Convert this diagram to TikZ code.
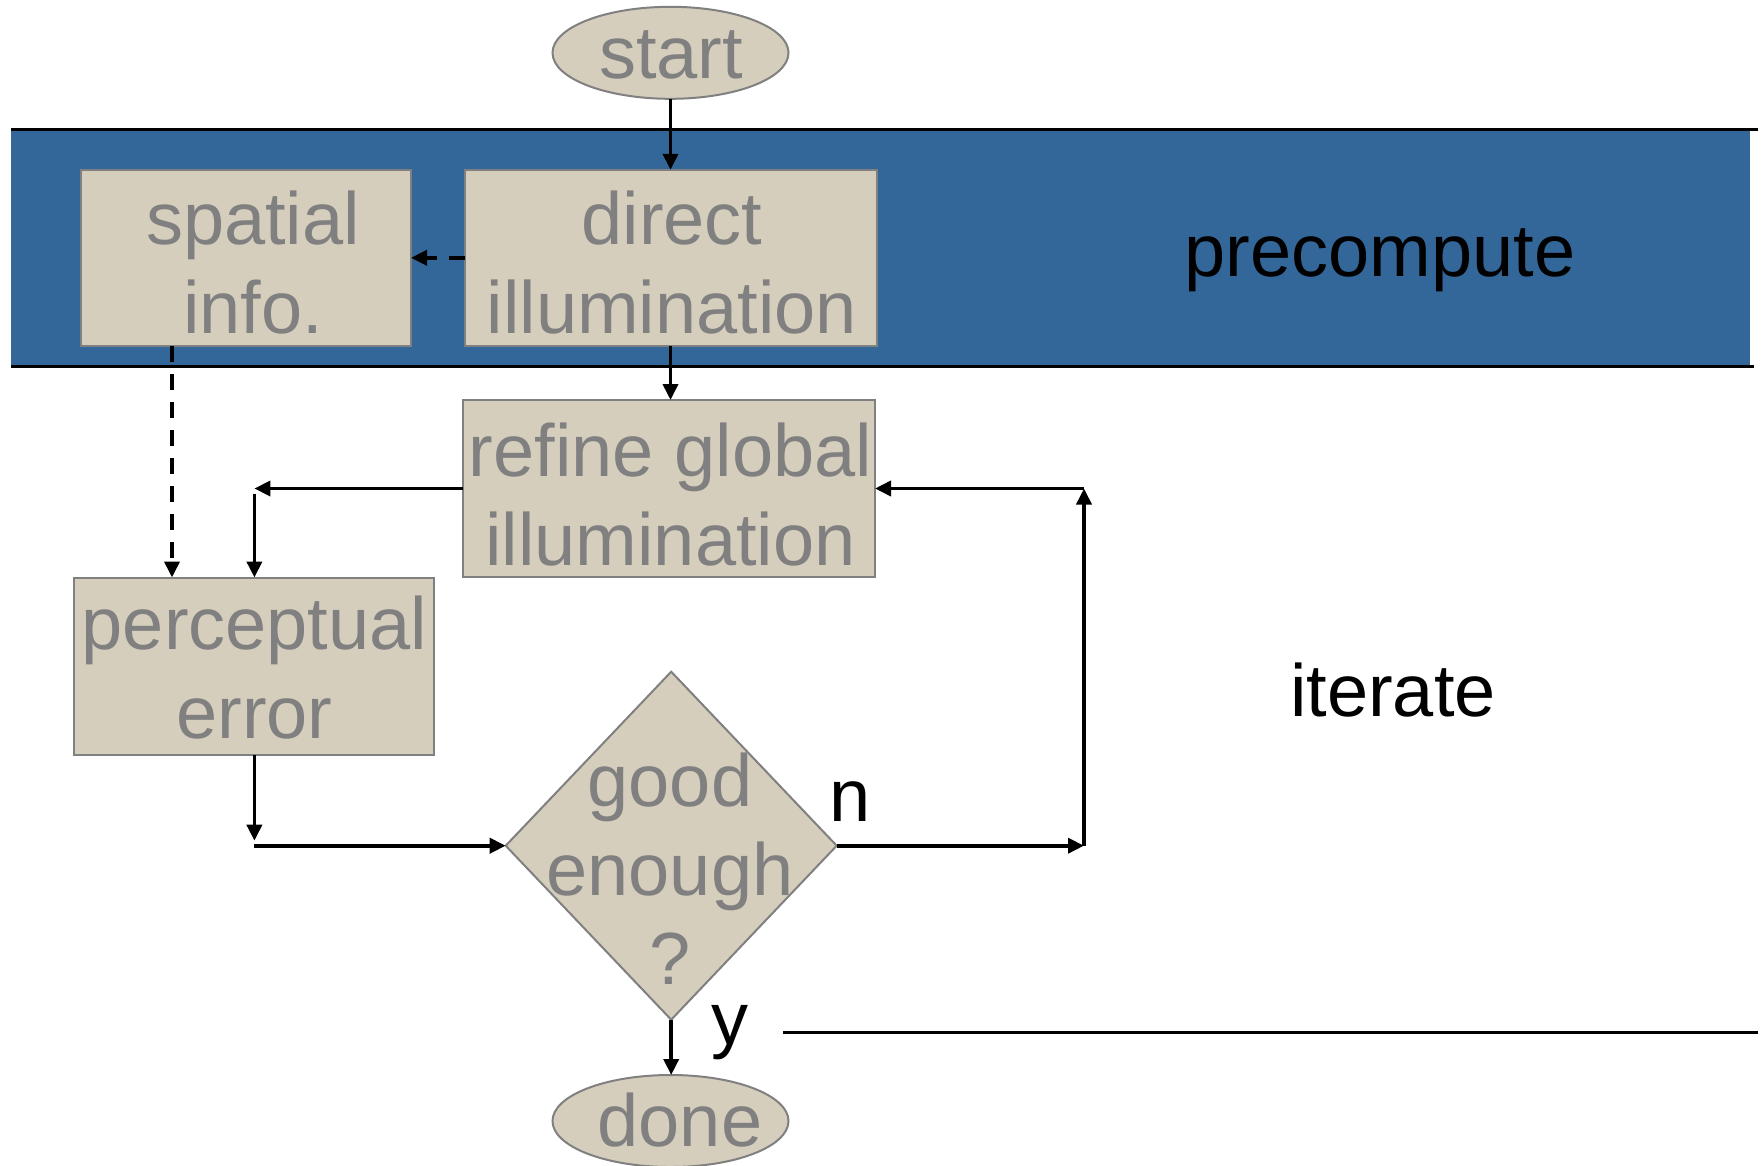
\documentclass[tikz,border=0pt]{standalone}
\usepackage{fontspec}
\setmainfont{Liberation Sans}
\usetikzlibrary{shapes.geometric,arrows.meta,calc}

\definecolor{bandblue}{RGB}{51,102,153}
\definecolor{boxfill}{RGB}{214,206,189}
\definecolor{boxline}{RGB}{128,128,128}
\definecolor{boxtext}{RGB}{128,128,128}

% centred multi-line label whose base is the first line's baseline
\newcommand\stackedlines[1]{\begin{tabular}[t]{@{}c@{}}#1\end{tabular}}

\begin{document}
\begin{tikzpicture}[x=1pt,y=-1pt,
  every node/.style={inner sep=0pt, outer sep=0pt},
  bigfont/.style={font=\fontsize{74}{89}\selectfont},
  procbox/.style={draw=boxline, fill=boxfill, line width=2pt, rectangle},
  terminal/.style={draw=boxline, fill=boxfill, line width=2pt, ellipse,
    minimum width=236pt, minimum height=92pt},
  decision/.style={draw=boxline, fill=boxfill, line width=2pt, diamond,
    minimum width=331pt, minimum height=348pt},
  boxlabel/.style={bigfont, text=boxtext, anchor=base},
  sidelabel/.style={bigfont, text=black, anchor=base},
  flow/.style={line width=3.7pt, -{Triangle[length=16pt,width=15pt]}},
  dashflow/.style={flow, dash pattern=on 16pt off 12pt},
  bandrule/.style={line width=3pt}
]
\useasboundingbox (0,0) rectangle (1761,1165);
\fill[white] (0,0) rectangle (1761,1165);

% precompute band
\fill[bandblue] (11,129) rectangle (1750,366);
\draw[bandrule] (11,129) -- (1758,129);
\draw[bandrule] (11,366) -- (1754,366);
% lower rule of the iterate region
\draw[bandrule] (783,1032) -- (1758,1032);

% shapes
\node[terminal] (start) at (670.5,52.8) {};
\node[procbox, minimum width=330pt, minimum height=176pt] (spatial) at (246,257.8) {};
\node[procbox, minimum width=412pt, minimum height=176pt] (direct) at (671,257.8) {};
\node[procbox, minimum width=412pt, minimum height=177pt] (refine) at (669,488.5) {};
\node[procbox, minimum width=360pt, minimum height=177pt] (perceptual) at (254.4,666) {};
\node[decision] (check) at (671.2,845.7) {};
\node[terminal] (done) at (670.5,1121) {};

% texts
\node[boxlabel] (starttext) at (671,78.6) {start};
\node[boxlabel] (spatialtext) at (253,244.8) {\stackedlines{spatial\\info.}};
\node[boxlabel] (directtext) at (672,244.8) {\stackedlines{direct\\illumination}};
\node[boxlabel] (refinetext) at (670.5,476) {\stackedlines{refine global\\illumination}};
\node[boxlabel] (perceptualtext) at (254.5,649) {\stackedlines{perceptual\\error}};
\node[boxlabel] (checktext) at (670,806.4) {\stackedlines{good\\enough\\?}};
\node[boxlabel] (donetext) at (680,1146) {done};

\node[sidelabel] (precomputelabel) at (1380,276) {precompute};
\node[sidelabel] (iteratelabel) at (1393,716) {iterate};
\node[sidelabel] (nolabel) at (850,821) {n};
\node[sidelabel] (yeslabel) at (730,1044) {y};

% corner points of the connectors
\coordinate (spdrop) at (172,450);
\coordinate (ltop) at (refine.west -| perceptual.north);
\coordinate (ldown) at ($(ltop)+(0,5)$);
\coordinate (lbot) at (perceptual.south |- check.west);
\coordinate (lbotend) at ($(lbot)+(0,-5)$);
\coordinate (rbot) at (1084,845.7);
\coordinate (rtop) at (rbot |- refine.east);

% connectors
\draw[flow] (start.south) -- (start.south |- direct.north);
\draw[dashflow] (direct.west) -- (spatial.east);
\draw[flow] (direct.south -| start.south) -- (start.south |- refine.north);
\draw[dashflow] (spatial.south -| spdrop) -- (perceptual.north -| spdrop);
\draw[flow] (refine.west) -- (ltop);
\draw[flow] (ldown) -- (perceptual.north);
\draw[flow] (perceptual.south) -- (lbotend);
\draw[flow] (lbot) -- (check.west);
\draw[flow] (check.east) -- (rbot);
\draw[flow] (rbot) -- (rtop);
\draw[flow] (rtop) -- (refine.east);
\draw[flow] (check.south) -- (check.south |- done.north);
\end{tikzpicture}
\end{document}
